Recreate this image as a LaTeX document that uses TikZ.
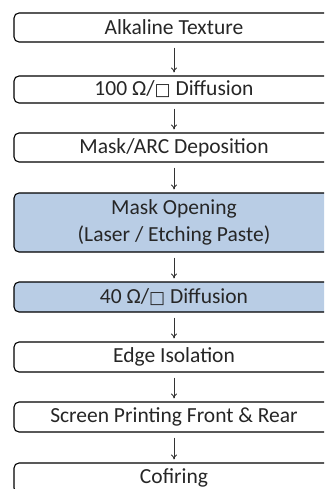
\documentclass[tikz,border=0pt]{standalone}
\usepackage{fontspec}
\setmainfont{Carlito}
\newfontfamily\boxfont{DejaVu Sans}
\usetikzlibrary{arrows.meta}

\newcommand{\sqr}{{\boxfont\fontsize{17}{17}\selectfont □}}

\begin{document}
\begin{tikzpicture}[x=1pt,y=-1pt,
  stepbox/.style={draw=black,line width=1.1pt,rounded corners=5pt,fill=white,
    minimum width=320pt,minimum height=29pt,inner sep=0pt,align=center,
    text=black!85,font=\fontsize{21.5}{27}\selectfont},
  hilite/.style={stepbox,fill=hiblue},
  flow/.style={draw=black!80,line width=0.9pt,-{To[length=5pt,width=6pt]},
    shorten <=5pt,shorten >=3pt}]
\definecolor{hiblue}{RGB}{185,205,229}
\clip (0,0) rectangle (324,489);
\node[stepbox] (alk) at (174,27.5) {Alkaline Texture};
\node[stepbox,minimum height=27pt] (dif1) at (174,89.5) {100 Ω/\sqr{} Diffusion};
\node[stepbox] (arc) at (174,147.5) {Mask/ARC Deposition};
\node[hilite,minimum height=59pt] (open) at (174,222.5) {Mask Opening\\(Laser / Etching Paste)};
\node[hilite,minimum height=30pt] (dif2) at (174,297) {40 Ω/\sqr{} Diffusion};
\node[stepbox,minimum height=30pt] (edge) at (174,357) {Edge Isolation};
\node[stepbox,minimum height=30pt] (print) at (174,417) {Screen Printing Front \& Rear};
\node[stepbox,minimum height=30pt] (fire) at (174,478) {Cofiring};
\draw[flow] (alk) -- (dif1);
\draw[flow] (dif1) -- (arc);
\draw[flow] (arc) -- (open);
\draw[flow] (open) -- (dif2);
\draw[flow] (dif2) -- (edge);
\draw[flow] (edge) -- (print);
\draw[flow] (print) -- (fire);
\end{tikzpicture}
\end{document}
